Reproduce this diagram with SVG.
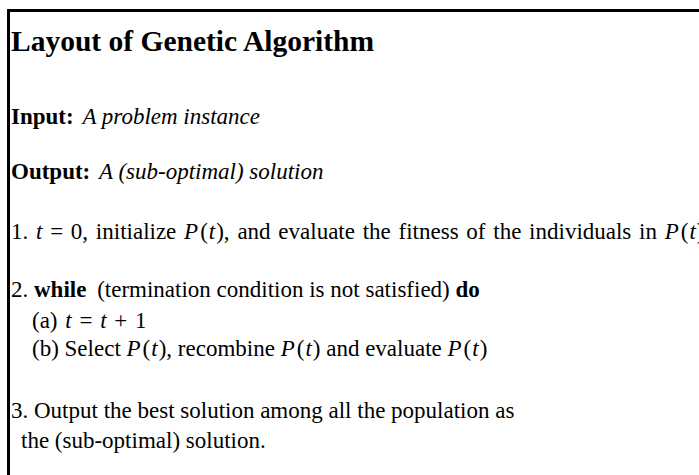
<svg xmlns="http://www.w3.org/2000/svg" width="699" height="475" viewBox="0 0 699 475">
<style>
text{font-family:"Liberation Serif","Times New Roman",serif;fill:#000;font-size:23px}
.t{font-size:29.5px;font-weight:bold}
.b{font-weight:bold}
.i{font-style:italic}
.w{word-spacing:2px}
</style>
<rect x="0" y="0" width="699" height="475" fill="#fff"/>
<g id="frame"><rect x="8.5" y="10.5" width="720" height="500" fill="none" stroke="#000" stroke-width="3"/></g>
<g id="content">
<text class="t" x="11" y="51">Layout of Genetic Algorithm</text>
<text x="11" y="124"><tspan class="b">Input:</tspan> <tspan class="i" dx="3">A problem instance</tspan></text>
<text x="11" y="179"><tspan class="b">Output:</tspan> <tspan class="i" dx="3">A (sub-optimal) solution</tspan></text>
<text class="w" x="11" y="239">1. <tspan class="i">t</tspan> = 0, initialize <tspan class="i">P</tspan><tspan dx="2">(</tspan><tspan class="i" dx="1">t</tspan><tspan dx="1">),</tspan> and evaluate the fitness of the individuals in <tspan class="i">P</tspan><tspan dx="2">(</tspan><tspan class="i" dx="1">t</tspan><tspan dx="1">)</tspan></text>
<text x="11" y="297">2. <tspan class="b">while</tspan> <tspan dx="5">(termination condition is not satisfied)</tspan> <tspan class="b">do</tspan></text>
<text class="w" x="32" y="328">(a) <tspan class="i">t</tspan> = <tspan class="i">t</tspan> + 1</text>
<text x="32" y="356">(b) Select <tspan class="i">P</tspan><tspan dx="2">(</tspan><tspan class="i" dx="1">t</tspan><tspan dx="1">),</tspan> recombine <tspan class="i">P</tspan><tspan dx="2">(</tspan><tspan class="i" dx="1">t</tspan><tspan dx="1">)</tspan> and evaluate <tspan class="i">P</tspan><tspan dx="2">(</tspan><tspan class="i" dx="1">t</tspan><tspan dx="1">)</tspan></text>
<text x="11" y="418">3. Output the best solution among all the population as</text>
<text x="21" y="448">the (sub-optimal) solution.</text>
</g>
</svg>
